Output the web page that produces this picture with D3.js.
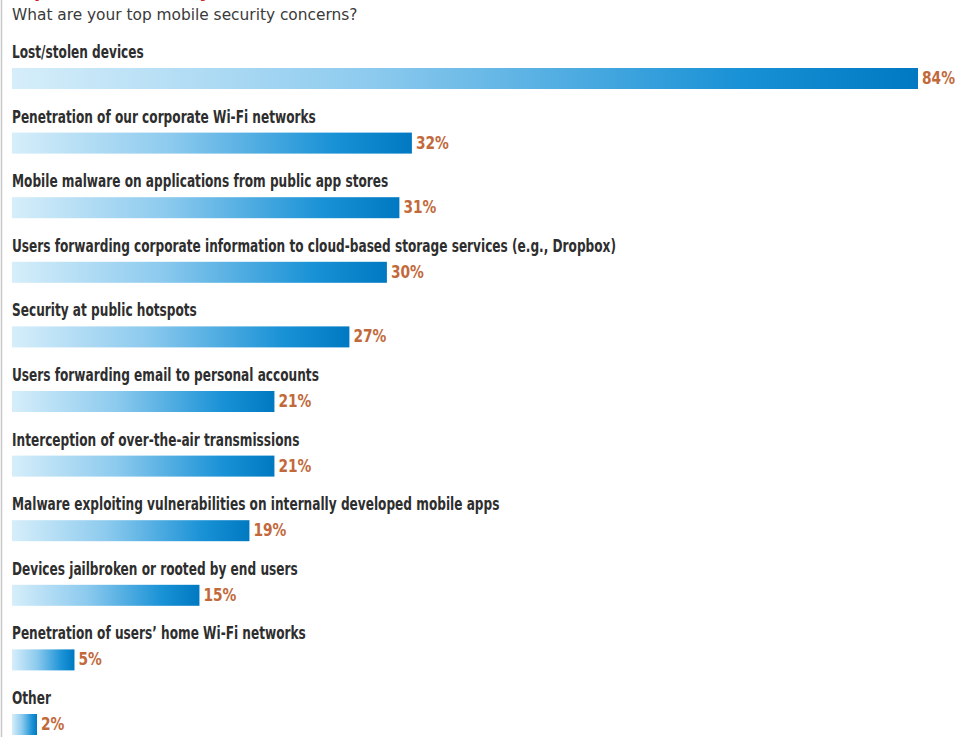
<!DOCTYPE html>
<html>
<head>
<meta charset="utf-8">
<script src="https://cdn.jsdelivr.net/npm/d3@7"></script>
<style>
  body { margin: 0; background: #fff; }
  text { font-family: "DejaVu Sans Condensed", "DejaVu Sans", sans-serif; }
</style>
</head>
<body>
<script>
var categories = [
  "Lost/stolen devices",
  "Penetration of our corporate Wi-Fi networks",
  "Mobile malware on applications from public app stores",
  "Users forwarding corporate information to cloud-based storage services (e.g., Dropbox)",
  "Security at public hotspots",
  "Users forwarding email to personal accounts",
  "Interception of over-the-air transmissions",
  "Malware exploiting vulnerabilities on internally developed mobile apps",
  "Devices jailbroken or rooted by end users",
  "Penetration of users\u2019 home Wi-Fi networks",
  "Other"
];
var values = [84, 32, 31, 30, 27, 21, 21, 19, 15, 5, 2];
var question = "What are your top mobile security concerns?";
var title = "Top Mobile Security Concerns";

var width = 960, height = 737;

var svg = d3.select("body").append("svg")
            .attr("width", width)
            .attr("height", height);

// bar gradient, light on the left, deep blue on the right
var grad = svg.append("defs").append("linearGradient")
              .attr("id", "barGrad")
              .attr("x1", 0).attr("x2", 1).attr("y1", 0).attr("y2", 0);
grad.append("stop").attr("offset", "0%").attr("stop-color", "#d6eefa");
grad.append("stop").attr("offset", "40%").attr("stop-color", "#8ccaee");
grad.append("stop").attr("offset", "80%").attr("stop-color", "#1a92d6");
grad.append("stop").attr("offset", "100%").attr("stop-color", "#0079c2");

// thin rule on the left edge
svg.append("line")
   .attr("x1", 1.5).attr("x2", 1.5)
   .attr("y1", 0).attr("y2", height)
   .attr("stroke", "#c8c8c8")
   .attr("stroke-width", 1.5);

// red title, cut off at the top in the source
svg.append("text")
   .attr("x", 12).attr("y", -3)
   .attr("fill", "#d21f26")
   .attr("font-weight", "bold")
   .attr("font-size", 20)
   .text(title);

svg.append("g")
   .attr("transform", "translate(12,20) scale(1.07,1)")
   .append("text")
   .attr("fill", "#3a3a3a")
   .attr("font-size", 16)
   .text(question);

// the 84% bar is cut short in the original, so the scale clamps it
var x = d3.scaleLinear()
          .domain([0, 72.5])
          .range([12, 918])
          .clamp(true);

var y = d3.scaleBand()
          .domain(categories)
          .range([40, 40 + 64.6 * categories.length]);

var rows = svg.selectAll("g.row")
              .data(categories)
              .enter()
              .append("g")
              .attr("class", "row")
              .attr("transform", function(d) { return "translate(0," + y(d) + ")"; });

// labels squeezed sideways to look like the condensed face of the original
rows.append("g")
    .attr("transform", "translate(12,18) scale(0.75,1)")
    .append("text")
    .attr("fill", "#2e2e2e")
    .attr("font-weight", "bold")
    .attr("font-size", 18)
    .text(function(d) { return d; });

rows.append("rect")
    .attr("x", x(0))
    .attr("y", 28)
    .attr("height", 21)
    .attr("width", function(d, i) { return x(values[i]) - x(0); })
    .attr("fill", "url(#barGrad)");

rows.append("g")
    .attr("transform", function(d, i) { return "translate(" + (x(values[i]) + 4) + ",44) scale(0.85,1)"; })
    .append("text")
    .attr("fill", "#c2693b")
    .attr("font-weight", "bold")
    .attr("font-size", 18)
    .text(function(d, i) { return values[i] + "%"; });
</script>
</body>
</html>
